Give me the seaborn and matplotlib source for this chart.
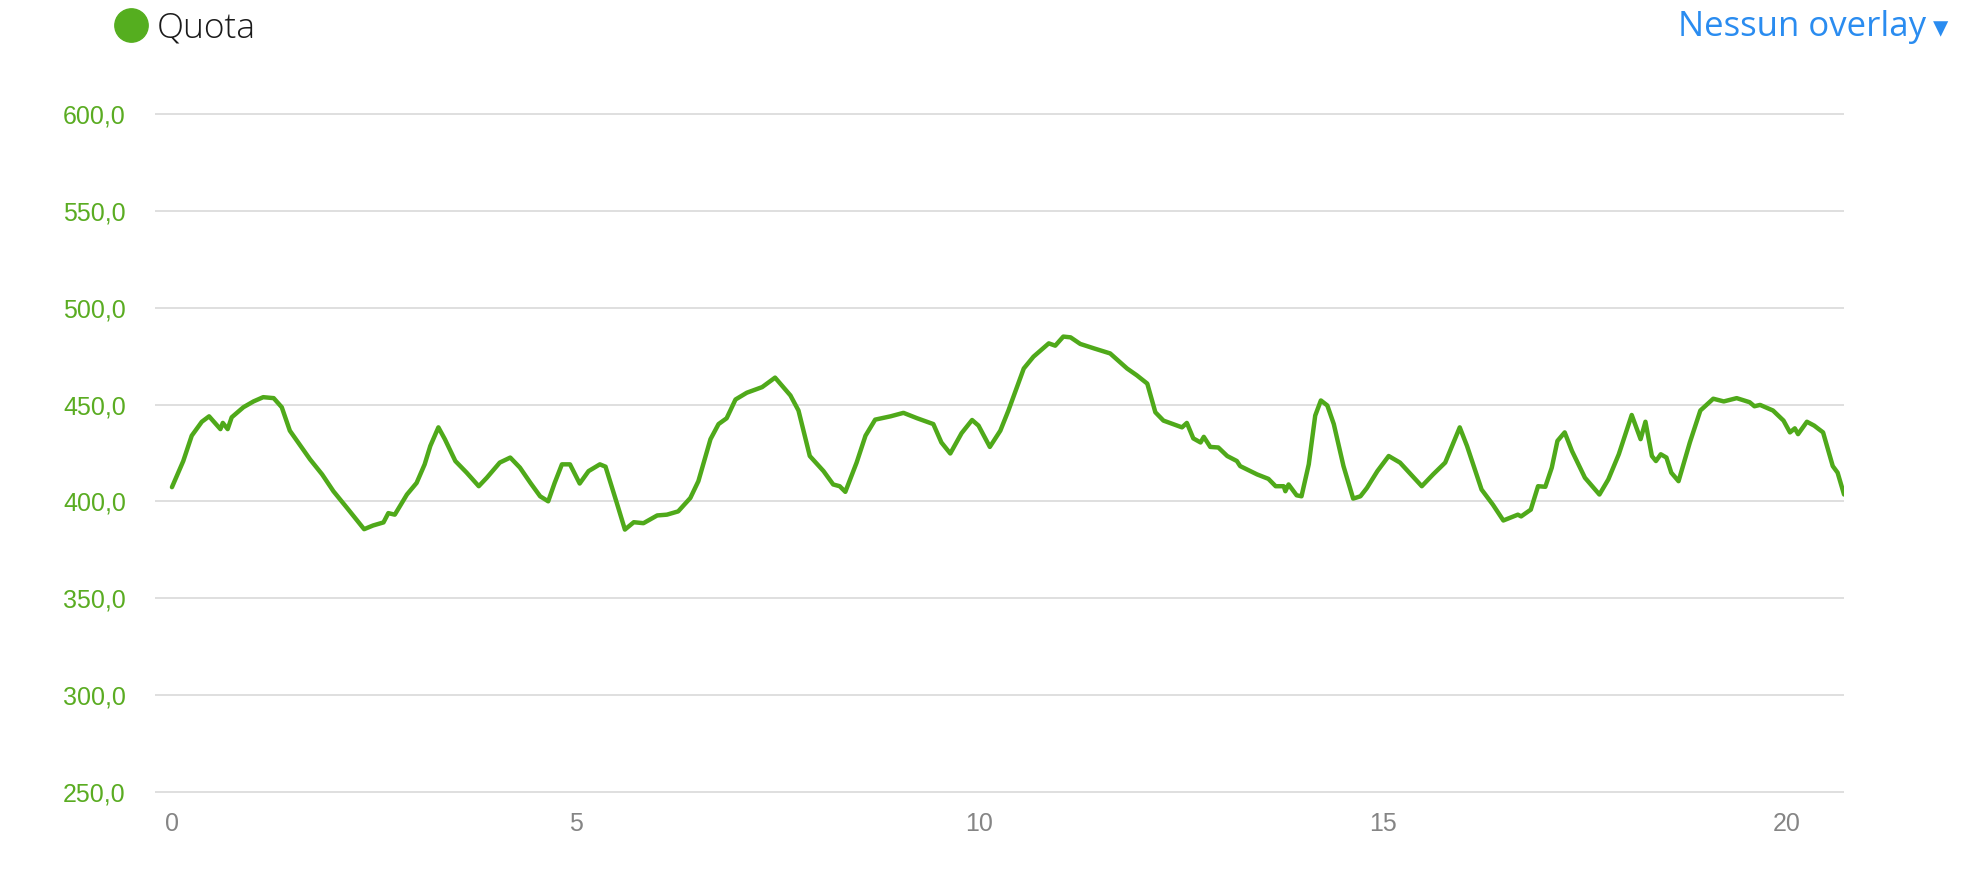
import pandas as pd
import matplotlib.pyplot as plt
import seaborn as sns
from matplotlib.lines import Line2D

# distance (km) and elevation (m)
km = [0.00, 0.14, 0.245, 0.37, 0.46, 0.60, 0.63, 0.69, 0.74, 0.885, 1.01, 1.13, 1.26, 1.36,
      1.46, 1.71, 1.86, 2.00, 2.17, 2.38, 2.49, 2.62, 2.68, 2.76, 2.91, 3.03, 3.13, 3.20,
      3.30, 3.38, 3.51, 3.65, 3.80, 3.90, 4.06, 4.19, 4.31, 4.44, 4.56, 4.66, 4.74, 4.83,
      4.93, 5.05, 5.16, 5.30, 5.37, 5.51, 5.61, 5.72, 5.84, 6.01, 6.13, 6.27, 6.42, 6.52,
      6.67, 6.77, 6.87, 6.98, 7.12, 7.31, 7.47, 7.66, 7.76, 7.90, 8.07, 8.19, 8.27, 8.34,
      8.48, 8.59, 8.71, 8.90, 9.06, 9.23, 9.43, 9.53, 9.64, 9.78, 9.91, 9.99, 10.13, 10.26,
      10.36, 10.55, 10.67, 10.86, 10.94, 11.04, 11.13, 11.25, 11.42, 11.62, 11.83, 11.95,
      12.08, 12.18, 12.28, 12.51, 12.57, 12.65, 12.74, 12.78, 12.86, 12.96, 13.07, 13.19,
      13.23, 13.44, 13.58, 13.67, 13.77, 13.79, 13.83, 13.93, 13.99, 14.08, 14.16, 14.23,
      14.31, 14.39, 14.51, 14.63, 14.72, 14.80, 14.93, 15.07, 15.21, 15.48, 15.62, 15.77,
      15.95, 16.04, 16.22, 16.36, 16.49, 16.67, 16.71, 16.83, 16.92, 17.01, 17.09, 17.16,
      17.25, 17.34, 17.50, 17.68, 17.79, 17.92, 18.08, 18.19, 18.25, 18.33, 18.38, 18.44,
      18.51, 18.57, 18.66, 18.80, 18.93, 19.09, 19.22, 19.38, 19.54, 19.60, 19.67, 19.83,
      19.96, 20.04, 20.10, 20.14, 20.25, 20.34, 20.45, 20.57, 20.63, 20.71]
quota = [407.3, 420.8, 433.9, 441.1, 443.9, 437.3, 440.5, 437.3, 443.4, 448.6, 451.6, 453.8,
         453.3, 448.6, 436.5, 421.7, 413.9, 405.2, 396.5, 385.6, 387.5, 389.1, 393.9, 393.1,
         403.5, 409.5, 419.1, 428.6, 438.2, 432.1, 420.8, 414.8, 407.8, 412.2, 420.0, 422.6,
         417.4, 409.5, 402.6, 400.0, 409.5, 419.1, 419.1, 409.2, 415.6, 419.1, 417.9, 399.1,
         385.4, 389.2, 388.7, 392.7, 393.1, 394.8, 401.7, 410.4, 432.1, 439.9, 442.9, 452.6,
         456.1, 459.0, 463.9, 454.7, 446.9, 423.4, 415.6, 408.7, 407.8, 404.9, 420.0, 433.9,
         442.2, 443.9, 445.7, 442.9, 439.9, 430.4, 424.7, 435.2, 442.0, 439.1, 428.1, 436.5,
         446.9, 468.6, 474.7, 481.6, 480.4, 485.1, 484.7, 481.3, 479.0, 476.4, 468.6, 465.1,
         460.8, 446.0, 441.7, 438.2, 440.5, 432.5, 430.4, 433.3, 428.1, 427.8, 423.4, 420.8,
         418.2, 413.9, 411.6, 407.8, 407.8, 405.2, 408.7, 403.1, 402.6, 419.1, 444.3, 452.1,
         449.5, 439.9, 418.2, 401.4, 402.6, 406.9, 415.6, 423.4, 420.0, 407.8, 413.9, 420.0,
         438.2, 428.6, 406.1, 398.3, 390.1, 393.1, 392.2, 395.7, 407.8, 407.5, 417.4, 431.2,
         435.6, 426.0, 412.2, 403.5, 411.3, 424.3, 444.6, 432.1, 441.1, 423.4, 420.8, 424.3,
         422.6, 414.8, 410.4, 430.4, 446.9, 453.0, 451.6, 453.3, 451.2, 449.1, 449.8, 446.9,
         441.7, 435.6, 437.7, 434.7, 441.1, 439.1, 435.6, 418.2, 414.8, 403.5]

y_ticks = [250, 300, 350, 400, 450, 500, 550, 600]
x_ticks = [0, 5, 10, 15, 20]

GREEN = '#4fa91a'
LABEL_GREEN = '#5aac22'
BLUE = '#2a8cf0'

sns.set_style("white")
plt.rcParams['font.family'] = ['Liberation Sans', 'DejaVu Sans']

df = pd.DataFrame({'km': km, 'quota': quota})

fig = plt.figure(figsize=(19.67, 8.84), dpi=100)
ax = fig.add_axes([0.0788, 0.0935, 0.8587, 0.7883])

sns.lineplot(data=df, x='km', y='quota', ax=ax, color=GREEN, linewidth=3.2)

ax.set_xlim(-0.21, 20.71)
ax.set_ylim(245, 605)
ax.set_yticks(y_ticks)
ax.set_yticklabels([f"{v:.1f}".replace('.', ',') for v in y_ticks])
ax.set_xticks(x_ticks)
ax.set_xticklabels([str(v) for v in x_ticks])
ax.set_xlabel('')
ax.set_ylabel('')

ax.grid(axis='y', color='#d9d9d9', linewidth=1.2)
ax.grid(axis='x', visible=False)
ax.set_axisbelow(True)
for s in ax.spines.values():
    s.set_visible(False)

ax.tick_params(axis='y', length=0, pad=21, labelsize=18, labelcolor=LABEL_GREEN)
ax.tick_params(axis='x', length=0, pad=8, labelsize=18, labelcolor='#858585')

# legend-like header
fig.add_artist(Line2D([131 / 1967], [1 - 25 / 884], marker='o', markersize=24,
                      color='#55ae1f', linestyle='none', transform=fig.transFigure))
fig.text(157 / 1967, 1 - 28 / 884, 'Quota', fontsize=25.5, color='#1a1a1a',
         family=['Open Sans', 'DejaVu Sans'], fontweight='light', va='center', ha='left')
fig.text(1926 / 1967, 1 - 27 / 884, 'Nessun overlay', fontsize=25, color=BLUE,
         family=['Open Sans', 'DejaVu Sans'], va='center', ha='right')
fig.text(1948 / 1967, 1 - 29 / 884, '\u25be', fontsize=22, color=BLUE,
         family=['DejaVu Sans'], va='center', ha='right')

plt.savefig('out.png', dpi=100)
